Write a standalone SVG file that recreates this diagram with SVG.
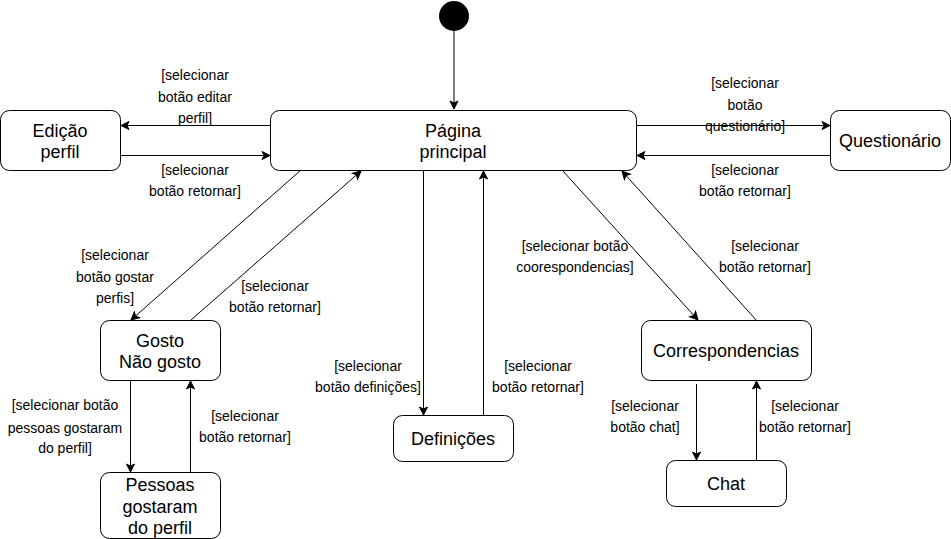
<svg xmlns="http://www.w3.org/2000/svg" width="951" height="539" viewBox="0 0 951 539">
<style>
.node rect{fill:#fff;stroke:#000;stroke-width:1}
.node text{font-family:"Liberation Sans",Arial,sans-serif;font-size:18px;text-anchor:middle;fill:#000}
.edges line{stroke:#000;stroke-width:1;fill:none;marker-end:url(#arr)}
.lbl{font-family:"Liberation Sans",Arial,sans-serif;font-size:14px;text-anchor:middle;fill:#000}
</style>
<defs>
<marker id="arr" viewBox="0 0 10 10" refX="9" refY="5" markerWidth="10" markerHeight="10" markerUnits="userSpaceOnUse" orient="auto">
<path d="M1,1 L9,5 L1,9 L3,5 Z" fill="#000" stroke="#000" stroke-width="1"/>
</marker>
</defs>
<rect width="951" height="539" fill="#fff"/>
<g id="start"><circle cx="454" cy="16" r="15" fill="#000"/></g>
<g id="pagina" class="node"><rect x="270.5" y="110.5" width="366" height="60" rx="9"/><text x="453" y="137">Página</text><text x="453" y="158">principal</text></g>
<g id="edicao" class="node"><rect x="0.5" y="110.5" width="120" height="60" rx="9"/><text x="60" y="137">Edição</text><text x="60" y="158">perfil</text></g>
<g id="questionario" class="node"><rect x="830.5" y="110.5" width="120" height="60" rx="9"/><text x="890" y="147">Questionário</text></g>
<g id="gosto" class="node"><rect x="100.5" y="320.5" width="120" height="60" rx="9"/><text x="160" y="347">Gosto</text><text x="160" y="368">Não gosto</text></g>
<g id="pessoas" class="node"><rect x="100.5" y="472.5" width="120" height="66" rx="9"/><text x="160" y="491">Pessoas</text><text x="160" y="513">gostaram</text><text x="160" y="534">do perfil</text></g>
<g id="definicoes" class="node"><rect x="393.5" y="415.5" width="120" height="46" rx="9"/><text x="453" y="445">Definições</text></g>
<g id="correspondencias" class="node"><rect x="641.5" y="320.5" width="170" height="60" rx="9"/><text x="726" y="357">Correspondencias</text></g>
<g id="chat" class="node"><rect x="666.5" y="460.5" width="120" height="46" rx="9"/><text x="726" y="490">Chat</text></g>
<g id="connectors" class="edges">
<line x1="454" y1="31" x2="454" y2="109"/>
<line x1="270" y1="125.5" x2="121" y2="125.5"/>
<line x1="121" y1="155.5" x2="270" y2="155.5"/>
<line x1="637" y1="125.5" x2="830" y2="125.5"/>
<line x1="830" y1="155.5" x2="637" y2="155.5"/>
<line x1="301" y1="170" x2="131" y2="320"/>
<line x1="191" y1="320" x2="361" y2="171"/>
<line x1="130.5" y1="381" x2="130.5" y2="472"/>
<line x1="190.5" y1="472" x2="190.5" y2="381"/>
<line x1="423.5" y1="171" x2="423.5" y2="415"/>
<line x1="483.5" y1="415" x2="483.5" y2="171"/>
<line x1="562" y1="170" x2="698" y2="320"/>
<line x1="757" y1="321" x2="622" y2="171"/>
<line x1="696.5" y1="384" x2="696.5" y2="460"/>
<line x1="756.5" y1="460" x2="756.5" y2="381"/>
</g>
<g id="labels">
<text class="lbl" x="195" y="80">[selecionar</text><text class="lbl" x="195" y="102">botão editar</text><text class="lbl" x="195" y="123">perfil]</text>
<text class="lbl" x="195" y="175">[selecionar</text><text class="lbl" x="195" y="196">botão retornar]</text>
<text class="lbl" x="745" y="88">[selecionar</text><text class="lbl" x="745" y="110">botão</text><text class="lbl" x="745" y="131">questionário]</text>
<text class="lbl" x="745" y="175">[selecionar</text><text class="lbl" x="745" y="196">botão retornar]</text>
<text class="lbl" x="115" y="260">[selecionar</text><text class="lbl" x="115" y="282">botão gostar</text><text class="lbl" x="115" y="303">perfis]</text>
<text class="lbl" x="275" y="291">[selecionar</text><text class="lbl" x="275" y="312">botão retornar]</text>
<text class="lbl" x="65" y="410">[selecionar botão</text><text class="lbl" x="65" y="433">pessoas gostaram</text><text class="lbl" x="65" y="453">do perfil]</text>
<text class="lbl" x="245" y="421">[selecionar</text><text class="lbl" x="245" y="442">botão retornar]</text>
<text class="lbl" x="368" y="371">[selecionar</text><text class="lbl" x="368" y="392">botão definições]</text>
<text class="lbl" x="538" y="371">[selecionar</text><text class="lbl" x="538" y="392">botão retornar]</text>
<text class="lbl" x="575" y="251">[selecionar botão</text><text class="lbl" x="575" y="272">coorespondencias]</text>
<text class="lbl" x="765" y="251">[selecionar</text><text class="lbl" x="765" y="272">botão retornar]</text>
<text class="lbl" x="645" y="411">[selecionar</text><text class="lbl" x="645" y="432">botão chat]</text>
<text class="lbl" x="805" y="411">[selecionar</text><text class="lbl" x="805" y="432">botão retornar]</text>
</g>
</svg>
